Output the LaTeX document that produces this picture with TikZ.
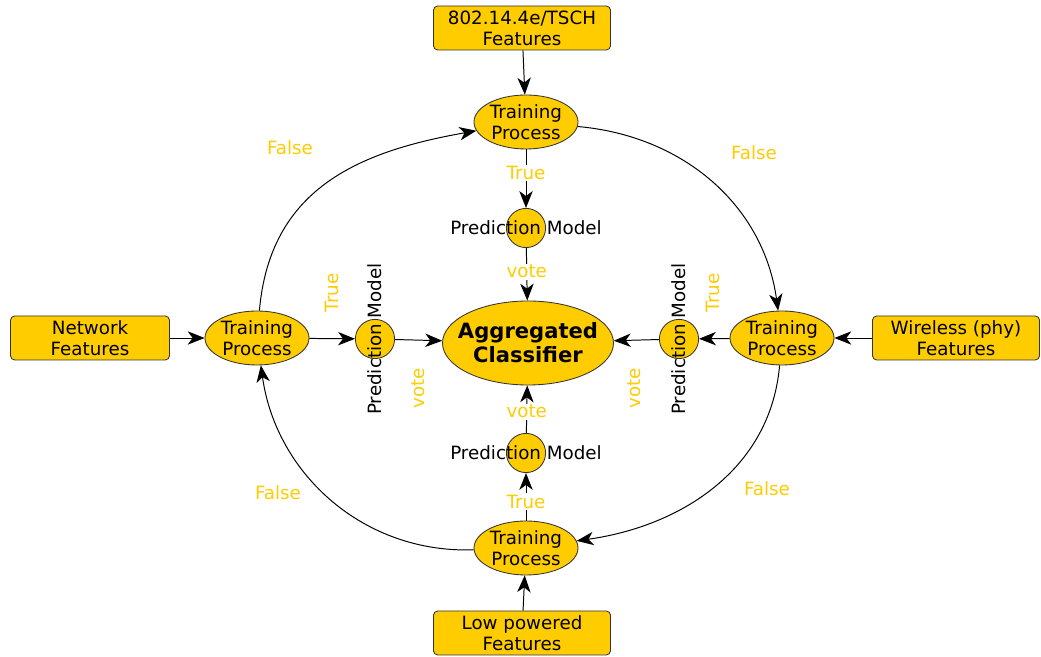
\documentclass[tikz,border=0pt]{standalone}
\usepackage{fontspec}
\setmainfont{DejaVu Sans}
\usetikzlibrary{shapes.geometric,arrows.meta}
\definecolor{amber}{RGB}{255,204,0}

\begin{document}
\begin{tikzpicture}[
        font=\fontsize{13}{15}\selectfont,
        >={Stealth[length=12pt,width=9.5pt,inset=3.5pt]},
        every node/.style={line width=0.6pt},
        feature/.style={draw=black!80, fill=amber, rounded corners=3pt, align=center, minimum height=1.1cm, inner sep=1pt},
        train/.style={ellipse, draw=black!80, fill=amber, align=center, minimum width=2.6cm, minimum height=1.35cm, inner sep=0pt},
        model/.style={circle, draw=black!80, fill=amber, minimum size=0.98cm, inner sep=0pt},
        tag/.style={text=amber, fill=white, inner sep=1pt},
        flow/.style={->, line width=0.7pt}
    ]
    \useasboundingbox (0,0) rectangle (26.025,16.425);

    % feature sources
    \node[feature, minimum width=4.425cm] (tsch) at (13.05,15.725) {802.14.4e/TSCH\\Features};
    \node[feature, minimum width=4.425cm] (lowpow) at (13.05,0.6) {Low powered\\Features};
    \node[feature, minimum width=3.975cm] (network) at (2.25,7.975) {Network\\Features};
    \node[feature, minimum width=4.175cm] (wireless) at (23.9,7.975) {Wireless (phy)\\Features};

    % training processes
    \node[train] (trTop) at (13.15,13.375) {Training\\Process};
    \node[train] (trBot) at (13.15,2.725) {Training\\Process};
    \node[train] (trLeft) at (6.425,7.975) {Training\\Process};
    \node[train] (trRight) at (19.55,7.975) {Training\\Process};

    % prediction models
    \node[model] (pmTop) at (13.15,10.725) {};
    \node[model] (pmBot) at (13.15,5.1) {};
    \node[model] (pmLeft) at (9.375,7.95) {};
    \node[model] (pmRight) at (16.975,7.95) {};
    \node at (pmTop) {Prediction Model};
    \node at (pmBot) {Prediction Model};
    \node[rotate=90] at (pmLeft) {Prediction Model};
    \node[rotate=90] at (pmRight) {Prediction Model};

    \node[ellipse, draw=black!80, fill=amber, minimum width=4.275cm, minimum height=2.1cm, inner sep=-10pt, align=center,
        font=\fontsize{15}{17}\selectfont\bfseries] (aggr) at (13.2,7.85) {Aggregated\\Classifier};

    % inputs
    \draw[flow] (tsch) -- (trTop);
    \draw[flow] (lowpow) -- (trBot);
    \draw[flow] (network) -- (trLeft);
    \draw[flow] (wireless) -- (trRight);

    % true branches
    \draw[flow] (trTop) -- node[tag, pos=0.4] {True} (pmTop);
    \draw[flow] (trBot) -- node[tag, pos=0.4] {True} (pmBot);
    \draw[flow] (trLeft) -- (pmLeft);
    \draw[flow] (trRight) -- (pmRight);
    \node[tag, rotate=90] at (8.3,9.1) {True};
    \node[tag, rotate=90] at (17.825,9.1) {True};

    % votes
    \draw[flow] (pmTop) -- node[tag, pos=0.45] {vote} (aggr);
    \draw[flow] (pmBot) -- node[tag, pos=0.45] {vote} (aggr);
    \draw[flow] (pmLeft) -- (aggr);
    \draw[flow] (pmRight) -- (aggr);
    \node[tag, rotate=90] at (10.45,6.725) {vote};
    \node[tag, rotate=90] at (15.85,6.725) {vote};

    % false branches go round the ring
    \draw[flow] (trLeft) to[out=85, in=190, looseness=1.1] (trTop);
    \draw[flow] (trTop) to[out=-5, in=98] (trRight);
    \draw[flow] (trRight) to[out=-95, in=8] (trBot);
    \draw[flow] (trBot) to[out=182, in=-82] (trLeft);
    \node[tag] at (7.25,12.725) {False};
    \node[tag] at (18.85,12.6) {False};
    \node[tag] at (19.175,4.2) {False};
    \node[tag] at (6.95,4.1) {False};
\end{tikzpicture}
\end{document}
